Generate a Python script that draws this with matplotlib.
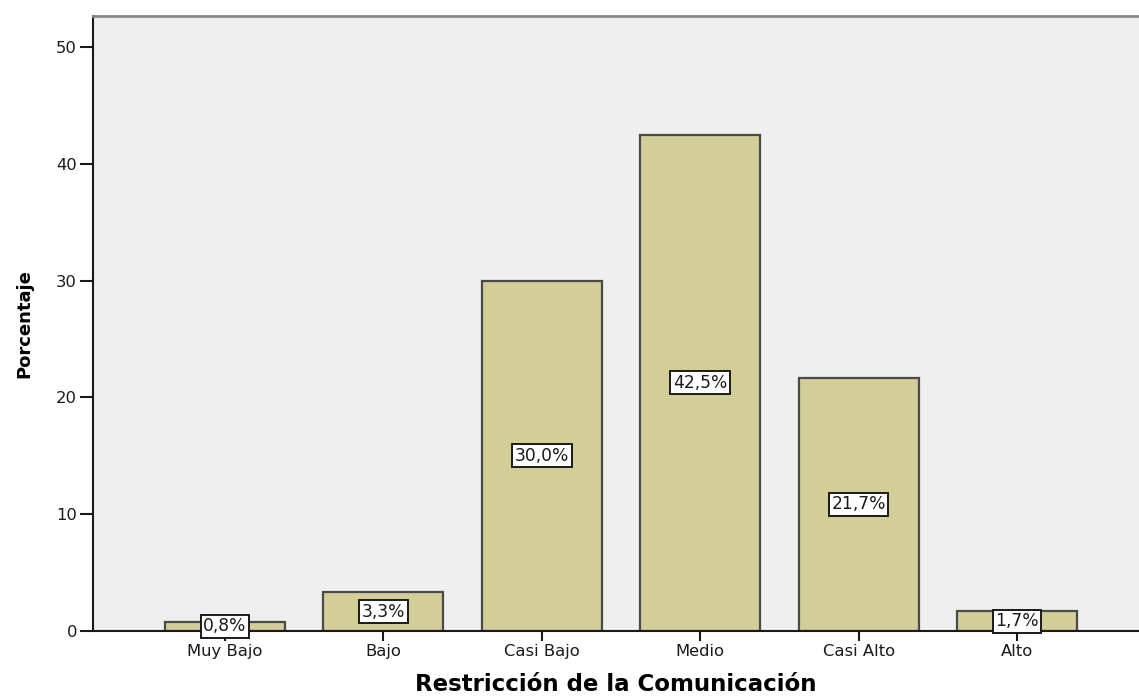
import matplotlib.pyplot as plt
import numpy as np

plt.rcParams['font.family'] = ['DejaVu Sans']

categorias = ['Muy Bajo', 'Bajo', 'Casi Bajo', 'Medio', 'Casi Alto', 'Alto']
porcentajes = [0.8, 3.3, 30.0, 42.5, 21.7, 1.7]
etiquetas = ['0,8%', '3,3%', '30,0%', '42,5%', '21,7%', '1,7%']

fig = plt.figure(figsize=(11.39, 6.97), dpi=100)
ax = fig.add_axes([93/1139, 66/697, 1 - 93/1139, 615/697])
ax.set_facecolor('#efefef')

x = np.arange(len(categorias))
ax.bar(x, porcentajes, width=0.757, color='#d3ce97', edgecolor='#4a4a4a', linewidth=1.6, zorder=2)

# etiquetas de porcentaje en el centro de cada barra
for xi, v, lab in zip(x, porcentajes, etiquetas):
    ax.text(xi, v / 2, lab, ha='center', va='center', fontsize=12.3, color='#1a1a1a', zorder=4,
            bbox=dict(boxstyle='square,pad=0.15', facecolor='white', edgecolor='#1a1a1a', linewidth=1.4))

ax.set_xlim(-0.833, 5.77)
ax.set_ylim(0, 52.65)
ax.set_yticks([0, 10, 20, 30, 40, 50])
ax.set_xticks(x)
ax.set_xticklabels(categorias)
ax.tick_params(axis='both', direction='out', width=1.5, colors='#1a1a1a', labelsize=11.8)
ax.tick_params(axis='x', length=7, pad=2.5)
ax.tick_params(axis='y', length=9.5, pad=2)

ax.spines['left'].set_linewidth(1.5)
ax.spines['bottom'].set_linewidth(1.5)
ax.spines['left'].set_color('#1a1a1a')
ax.spines['bottom'].set_color('#1a1a1a')
ax.spines['top'].set_color('#888888')
ax.spines['top'].set_linewidth(2)
ax.spines['right'].set_visible(False)

ax.set_xlabel('Restricción de la Comunicación', fontsize=16.5, fontweight='bold')
ax.xaxis.set_label_coords(0.5, -0.069)
ax.set_ylabel('Porcentaje', fontsize=13, fontweight='bold')
ax.yaxis.set_label_coords(-0.0574, 0.5)

plt.savefig('out.png', dpi=100)
